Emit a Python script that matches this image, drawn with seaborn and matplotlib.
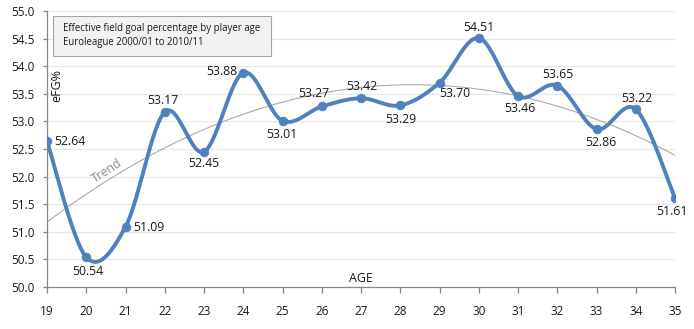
import numpy as np
import pandas as pd
import matplotlib
matplotlib.use("Agg")
import matplotlib.pyplot as plt
from matplotlib.patches import Rectangle
import seaborn as sns

ages = [19, 20, 21, 22, 23, 24, 25, 26, 27, 28, 29, 30, 31, 32, 33, 34, 35]
efg = [52.64, 50.54, 51.09, 53.17, 52.45, 53.88, 53.01, 53.27, 53.42, 53.29,
       53.70, 54.51, 53.46, 53.65, 52.86, 53.22, 51.61]
y_ticks = [50.0, 50.5, 51.0, 51.5, 52.0, 52.5, 53.0, 53.5, 54.0, 54.5, 55.0]
title_lines = ["Effective field goal percentage by player age",
               "Euroleague 2000/01 to 2010/11"]

# data-label placement (pixel offsets dx, dy (up positive), horizontal alignment)
label_offsets = [(7, 0, 'left'), (2, -14, 'center'), (8, -1, 'left'), (-2, 12, 'center'),
                 (0, -12, 'center'), (-6, 1, 'right'), (-1, -14, 'center'), (-8, 13, 'center'),
                 (1, 12, 'center'), (1, -14, 'center'), (15, -11, 'center'), (0, 11, 'center'),
                 (2, -12, 'center'), (1, 11, 'center'), (4, -13, 'center'), (1, 11, 'center'),
                 (-3, -13, 'center')]

sns.set_theme(style="white")
plt.rcParams['font.family'] = ['Open Sans', 'DejaVu Sans']

fig = plt.figure(figsize=(6.94, 3.29), dpi=100)
ax = fig.add_axes([47/694, 1-287/329, (675-47)/694, (287-11)/329])

x = np.array(ages, dtype=float)
y = np.array(efg, dtype=float)

def smooth(xs, ys, n=30):
    px, py = [], []
    N = len(xs)
    for i in range(N - 1):
        x0, y0 = (xs[i-1], ys[i-1]) if i > 0 else (xs[i], ys[i])
        x1, y1 = xs[i], ys[i]
        x2, y2 = xs[i+1], ys[i+1]
        x3, y3 = (xs[i+2], ys[i+2]) if i + 2 < N else (xs[i+1], ys[i+1])
        c1x, c1y = x1 + (x2 - x0) / 6, y1 + (y2 - y0) / 6
        c2x, c2y = x2 - (x3 - x1) / 6, y2 - (y3 - y1) / 6
        t = np.linspace(0, 1, n, endpoint=(i == N - 2))
        bx = (1-t)**3*x1 + 3*(1-t)**2*t*c1x + 3*(1-t)*t**2*c2x + t**3*x2
        by = (1-t)**3*y1 + 3*(1-t)**2*t*c1y + 3*(1-t)*t**2*c2y + t**3*y2
        px.extend(bx); py.extend(by)
    return np.array(px), np.array(py)

sx, sy = smooth(x, y)

coef = np.polyfit(x, y, 2)
tx = np.linspace(19, 35, 200)
ty = np.polyval(coef, tx)

ax.set_xlim(19, 35)
ax.set_ylim(50, 55)
ax.set_yticks(y_ticks)
ax.set_xticks(ages)
ax.set_yticklabels([f"{v:.1f}" for v in y_ticks])
ax.grid(axis='y', color='#e8e8e8', linewidth=0.9)
ax.set_axisbelow(True)

sns.lineplot(x=tx, y=ty, ax=ax, color='#a6a6a6', linewidth=0.75, sort=False)
sns.lineplot(x=sx, y=sy, ax=ax, color='#4f81bd', linewidth=2.8, sort=False)
sns.scatterplot(x=x, y=y, ax=ax, color='#4f81bd', s=40, edgecolor='#4f81bd', zorder=5)

for xi, yi, (dx, dy, ha) in zip(x, y, label_offsets):
    ax.annotate(f"{yi:.2f}", (xi, yi), xytext=(dx * 0.72, dy * 0.72), textcoords='offset points',
                ha=ha, va='center', fontsize=8.8, color='#1a1a1a', zorder=6, annotation_clip=False)

for s in ['top', 'right']:
    ax.spines[s].set_visible(False)
for s in ['left', 'bottom']:
    ax.spines[s].set_color('#868686')
    ax.spines[s].set_linewidth(0.9)
ax.tick_params(axis='x', direction='out', length=4, width=0.9, color='#868686',
               labelsize=8.5, pad=9, labelcolor='#1a1a1a', bottom=True)
ax.tick_params(axis='y', direction='out', length=3, width=0.9, color='#868686',
               labelsize=8.5, pad=6, labelcolor='#1a1a1a', left=True)
ax.set_xlabel("")
ax.set_ylabel("")

# title box
fig.patches.append(Rectangle((53/694, 1-56/329), (271-53)/694, 40/329, transform=fig.transFigure,
                             facecolor='#f2f2f2', edgecolor='#a6a6a6', linewidth=0.8, zorder=10))
fig.text(63/694, 1-29/329, title_lines[0], fontsize=6.9, color='#1a1a1a', ha='left', va='center', zorder=11)
fig.text(63/694, 1-43/329, title_lines[1], fontsize=6.9, color='#1a1a1a', ha='left', va='center', zorder=11)

fig.text(57/694, 1-85/329, "eFG%", rotation=90, fontsize=9, ha='center', va='center', color='#1a1a1a')
fig.text(361/694, 1-278/329, "AGE", fontsize=9, ha='center', va='center', color='#1a1a1a')
fig.text(107/694, 1-171/329, "Trend", rotation=33, fontsize=8.8, ha='center', va='center', color='#8c8c8c')

fig.savefig("out.png", dpi=100)
